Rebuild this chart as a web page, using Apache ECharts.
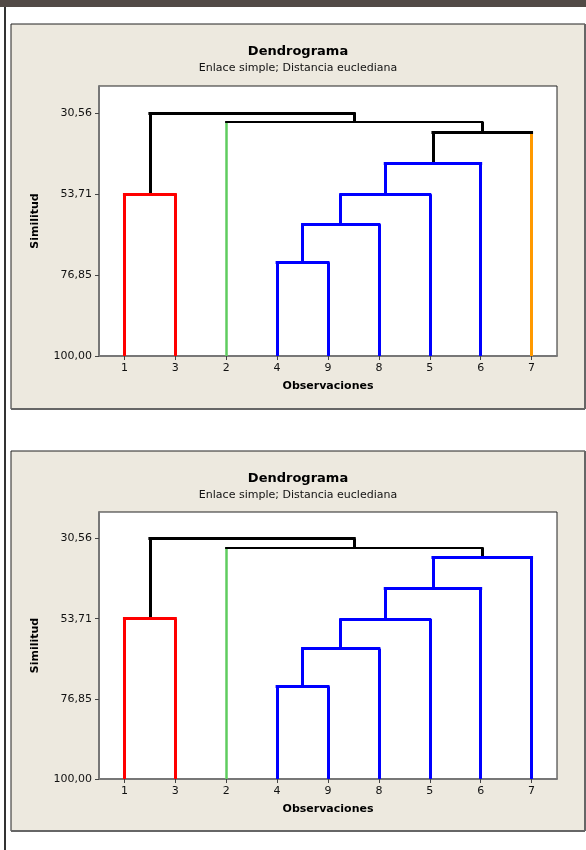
<!DOCTYPE html>
<html>
<head>
<meta charset="utf-8">
<script src="https://cdn.jsdelivr.net/npm/echarts@6/dist/echarts.min.js"></script>
<style>
html,body{margin:0;padding:0;background:#fff;}
#chart{width:586px;height:850px;}
</style>
</head>
<body>
<div id="chart"></div>
<script>
// ---- data ----
const leafLabels = ['1', '3', '2', '4', '9', '8', '5', '6', '7'];
// merges: child indices (0-8 = leaves in order above, 9+k = merge k)
const mergeLeft  = [3, 9, 10, 11, 12, 0, 2, 14];
const mergeRight = [4, 5, 6, 7, 8, 1, 13, 15];
const mergeSimilarity = [73.24, 62.35, 53.8, 44.9, 36.0, 53.71, 33.15, 30.56];
const yTickValues = [30.56, 53.71, 76.85, 100.00];
// cluster membership of each leaf (top chart: 4 clusters, bottom chart: 3 clusters)
const clustersTop    = [0, 0, 1, 2, 2, 2, 2, 2, 3];
const clustersBottom = [0, 0, 1, 2, 2, 2, 2, 2, 2];

const titleText = 'Dendrograma';
const subtitleText = 'Enlace simple; Distancia euclediana';
const xName = 'Observaciones';
const yName = 'Similitud';

// ---- styles ----
const clusterColors = ['#ff0000', '#5fcc5f', '#0000ff', '#ff9900'];
const linkBlack = '#000000';
const FONT = 'DejaVu Sans';

function buildSegments(clusters) {
  const n = leafLabels.length;
  const xs = [], hs = [], cl = [];
  for (let i = 0; i < n; i++) { xs.push(i); hs.push(100); cl.push(clusters[i]); }
  for (let k = 0; k < mergeLeft.length; k++) {
    const a = mergeLeft[k], b = mergeRight[k];
    xs.push((xs[a] + xs[b]) / 2);
    hs.push(mergeSimilarity[k]);
    cl.push(cl[a] === cl[b] ? cl[a] : -1);
  }
  const legs = [], bars = [];
  for (let k = 0; k < mergeLeft.length; k++) {
    const node = n + k;
    const a = mergeLeft[k], b = mergeRight[k];
    const thin = (k === 6);
    bars.push({
      coords: [[xs[a], hs[node]], [xs[b], hs[node]]],
      lineStyle: { color: cl[node] >= 0 ? clusterColors[cl[node]] : linkBlack, width: thin ? 2.2 : 3, cap: 'square' }
    });
    [a, b].forEach(function (c) {
      let col = linkBlack;
      if (cl[c] >= 0 && (cl[node] === cl[c] || c < n)) col = clusterColors[cl[c]];
      const w = (c < n && clusters[c] === 1) ? 2.5 : 3;
      legs.push({
        coords: [[xs[c], hs[c]], [xs[c], hs[node]]],
        lineStyle: { color: col, width: w, cap: 'butt' }
      });
    });
  }
  return legs.concat(bars);
}

const idx = leafLabels.map(function (_, i) { return i; });
const fmtY = function (v) { return Number(v).toFixed(2).replace('.', ','); };

function makeX(gi) {
  return {
    type: 'value', gridIndex: gi, min: -0.5, max: 8.5,
    splitLine: { show: false },
    axisLine: { show: true, onZero: false, lineStyle: { color: '#777', width: 2 } },
    axisTick: { show: true, customValues: idx, length: 4, lineStyle: { color: '#444', width: 1 } },
    axisLabel: { customValues: idx, formatter: function (v) { return leafLabels[Math.round(v)]; },
      fontFamily: FONT, fontSize: 11, color: '#111', margin: 7 },
    name: xName, nameLocation: 'middle', nameGap: 25,
    nameTextStyle: { fontFamily: FONT, fontSize: 11, fontWeight: 'bold', color: '#000' }
  };
}
function makeY(gi) {
  return {
    type: 'value', gridIndex: gi, min: 22.9, max: 100, inverse: true,
    splitLine: { show: false },
    axisLine: { show: true, onZero: false, lineStyle: { color: '#777', width: 2 } },
    axisTick: { show: true, customValues: yTickValues, length: 4, lineStyle: { color: '#444', width: 1 } },
    axisLabel: { customValues: yTickValues, formatter: fmtY, fontFamily: FONT, fontSize: 11, color: '#111', margin: 7 },
    name: yName, nameLocation: 'middle', nameGap: 58,
    nameTextStyle: { fontFamily: FONT, fontSize: 11, fontWeight: 'bold', color: '#000' }
  };
}
function makeTitle(top) {
  return {
    text: titleText, subtext: subtitleText, left: 298, top: top, textAlign: 'center',
    padding: 0, itemGap: 5,
    textStyle: { fontFamily: FONT, fontSize: 13, fontWeight: 'bold', color: '#000' },
    subtextStyle: { fontFamily: FONT, fontSize: 11, color: '#111' }
  };
}
function panel(y, h) {
  return [
    { type: 'rect', z: -10, shape: { x: 11, y: y, width: 574, height: h },
      style: { fill: '#ede9df', stroke: '#222', lineWidth: 1 } },
    { type: 'line', z: -9, shape: { x1: 11, y1: y + h, x2: 585, y2: y + h }, style: { stroke: '#666', lineWidth: 2 } },
    { type: 'line', z: -9, shape: { x1: 585, y1: y, x2: 585, y2: y + h }, style: { stroke: '#666', lineWidth: 2 } }
  ];
}

function makeSeries(gi, clusters) {
  return {
    type: 'lines', coordinateSystem: 'cartesian2d', xAxisIndex: gi, yAxisIndex: gi,
    polyline: false, silent: true, animation: false, z: 5,
    lineStyle: { opacity: 1, curveness: 0 },
    data: buildSegments(clusters)
  };
}

const chart = echarts.init(document.getElementById('chart'), null, { renderer: 'canvas' });
chart.setOption({
  backgroundColor: '#ffffff',
  animation: false,
  graphic: [
    { type: 'rect', z: -20, shape: { x: 0, y: 0, width: 586, height: 7 }, style: { fill: '#524a46' } },
    { type: 'rect', z: -20, shape: { x: 4, y: 7, width: 2, height: 843 }, style: { fill: '#333' } }
  ].concat(panel(24, 385)).concat(panel(451, 380)),
  title: [makeTitle(45), makeTitle(472)],
  grid: [
    { left: 99, top: 86, width: 458, height: 270, show: true, backgroundColor: '#fff', borderColor: '#222', borderWidth: 1 },
    { left: 99, top: 512, width: 458, height: 267, show: true, backgroundColor: '#fff', borderColor: '#222', borderWidth: 1 }
  ],
  xAxis: [makeX(0), makeX(1)],
  yAxis: [makeY(0), makeY(1)],
  series: [makeSeries(0, clustersTop), makeSeries(1, clustersBottom)]
});
</script>
</body>
</html>
